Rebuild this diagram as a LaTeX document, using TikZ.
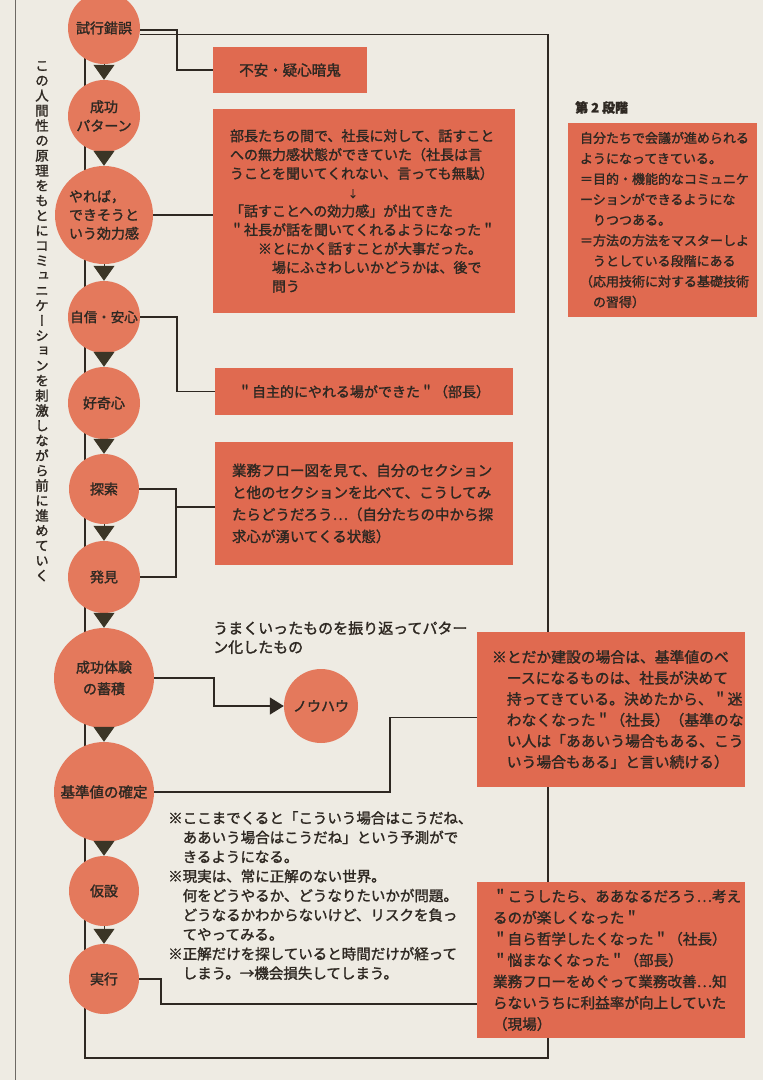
\documentclass[tikz,border=0pt]{standalone}
\usepackage{fontspec}
\setmainfont{Noto Sans CJK JP}[FakeBold=1.6]
\newfontfamily\vjp{Noto Sans CJK JP}[RawFeature=+vert,FakeBold=1.6]
\usetikzlibrary{arrows.meta,calc}
\pgfdeclarelayer{bg}
\pgfdeclarelayer{lines}
\pgfsetlayers{bg,lines,main}
\definecolor{paper}{RGB}{238,235,227}
\definecolor{boxc}{RGB}{224,106,80}
\definecolor{circc}{RGB}{228,121,92}
\definecolor{ink}{RGB}{46,40,34}
\definecolor{tric}{RGB}{59,53,38}
\begin{document}
\begin{tikzpicture}[x=1pt,y=-1pt,
  circ/.style={circle,fill=circc,inner sep=0pt,minimum size=#1,text=ink,align=center,font=\fontsize{14}{19}\selectfont},
  box/.style={rectangle,fill=boxc,inner sep=0pt,text=ink,align=left},
  conn/.style={draw=ink,line width=1.5pt},
  flow/.style={draw=tric,line width=1pt,-{Triangle[width=21pt,length=15pt]}},
  txt/.style={inner sep=0pt,text=ink,align=left,anchor=north west}]
\begin{pgfonlayer}{bg}
\fill[paper] (0,0) rectangle (763,1080);
\end{pgfonlayer}
\useasboundingbox (0,0) rectangle (763,1080);
\draw[ink!70,line width=0.8pt] (15,0) -- (15,1080);

% circles
\node[circ=72pt] (c1) at (104,28) {試行錯誤};
\node[circ=72pt] (c2) at (104,116) {成功\\パターン};
\node[circ=98pt,align=left,font=\fontsize{14}{18.5}\selectfont] (c3) at (104,215) {やれば，\\できそうと\\いう効力感};
\node[circ=72pt,font=\fontsize{13.5}{18}\selectfont] (c4) at (104,317) {自信・安心};
\node[circ=72pt] (c5) at (104,403) {好奇心};
\node[circ=70pt] (c6) at (104,489) {探索};
\node[circ=72pt] (c7) at (104,577) {発見};
\node[circ=100pt,font=\fontsize{14}{21.5}\selectfont] (c8) at (104,678) {成功体験\\の蓄積};
\node[circ=100pt,font=\fontsize{14.5}{19}\selectfont] (c9) at (104,792) {基準値の確定};
\node[circ=70pt] (c10) at (104,891) {仮設};
\node[circ=70pt] (c11) at (104,979) {実行};
\node[circ=74pt] (nh) at (321,706) {ノウハウ};

% triangles
\draw[flow] (c1.south) -- (c2.north);
\draw[flow] (c2.south) -- (c3.north);
\draw[flow] (c3.south) -- (c4.north);
\draw[flow] (c4.south) -- (c5.north);
\draw[flow] (c5.south) -- (c6.north);
\draw[flow] (c6.south) -- (c7.north);
\draw[flow] (c7.south) -- (c8.north);
\draw[flow] (c8.south) -- (c9.north);
\draw[flow] (c9.south) -- (c10.north);
\draw[flow] (c10.south) -- (c11.north);

% boxes
\node[box,minimum width=154pt,minimum height=46pt,font=\fontsize{14.5}{19}\selectfont] (B1) at (290,70) {不安・疑心暗鬼};
\node[box,minimum width=302pt,minimum height=204pt,text width=268pt,font=\fontsize{14}{18.8}\selectfont] (B2) at (364,211) {部長たちの間で、社長に対して、話すこと\\
への無力感状態ができていた（社長は言\\
うことを聞いてくれない、言っても無駄）\\
\hspace*{118pt}{\fontsize{10}{10}\selectfont ↓}\\
「話すことへの効力感」が出てきた\\
＂社長が話を聞いてくれるようになった＂\\
　　※とにかく話すことが大事だった。\\
　　　場にふさわしいかどうかは、後で\\
　　　問う};
\node[box,minimum width=298pt,minimum height=47pt,font=\fontsize{14}{19}\selectfont] (B3) at (364,391.5) {＂自主的にやれる場ができた＂（部長）};
\node[box,minimum width=298pt,minimum height=123pt,text width=264pt,font=\fontsize{14.5}{22}\selectfont] (B4) at (364,503.5) {業務フロー図を見て、自分のセクション\\
と他のセクションを比べて、こうしてみ\\
たらどうだろう⋯（自分たちの中から探\\
求心が湧いてくる状態）};
\node[txt,font=\bfseries\fontsize{13}{13}\selectfont] (S2t) at (575,101) {第 2 段階};
\node[box,minimum width=189pt,minimum height=194pt,text width=165pt,font=\fontsize{13}{20.5}\selectfont] (S2) at (662.5,220) {自分たちで会議が進められる\\
ようになってきている。\\
＝目的・機能的なコミュニケ\\
ーションができるようにな\\
　りつつある。\\
＝方法の方法をマスターしよ\\
　うとしている段階にある\\
（応用技術に対する基礎技術\\
　の習得）};
\node[box,minimum width=268pt,minimum height=155pt,text width=238pt,font=\fontsize{14.8}{21}\selectfont] (B5) at (611,709.5) {※とだか建設の場合は、基準値のベ\\
　ースになるものは、社長が決めて\\
　持ってきている。決めたから、＂迷\\
　わなくなった＂（社長）（基準のな\\
　い人は「ああいう場合もある、こう\\
　いう場合もある」と言い続ける）};
\node[box,minimum width=268pt,minimum height=156pt,text width=236pt,font=\fontsize{14.6}{21.3}\selectfont] (B6) at (611,960) {＂こうしたら、ああなるだろう⋯考え\\
るのが楽しくなった＂\\
＂自ら哲学したくなった＂（社長）\\
＂悩まなくなった＂（部長）\\
業務フローをめぐって業務改善⋯知\\
らないうちに利益率が向上していた\\
（現場）};

% free texts
\node[txt,font=\fontsize{15}{19}\selectfont] (umaku) at (213,621) {うまくいったものを振り返ってパター\\ン化したもの};
\node[txt,font=\fontsize{14.5}{19.4}\selectfont] (note) at (168,811) {※ここまでくると「こういう場合はこうだね、\\
　ああいう場合はこうだね」という予測がで\\
　きるようになる。\\
※現実は、常に正解のない世界。\\
　何をどうやるか、どうなりたいかが問題。\\
　どうなるかわからないけど、リスクを負っ\\
　てやってみる。\\
※正解だけを探していると時間だけが経って\\
　しまう。→機会損失してしまう。};
\node[inner sep=0pt,anchor=north,align=center,text=ink,font=\vjp\fontsize{13.5}{15}\selectfont] (vt) at (42,61) {こ\\の\\人\\間\\性\\の\\原\\理\\を\\も\\と\\に\\コ\\ミ\\ュ\\ニ\\ケ\\ー\\シ\\ョ\\ン\\を\\刺\\激\\し\\な\\が\\ら\\前\\に\\進\\め\\て\\い\\く};

\coordinate (LTR) at (548,34);
\coordinate (LBR) at (548,1058);
\coordinate (LBL) at (85,1058);
\coordinate (B4w) at ($(B4.north west)!0.53!(B4.south west)$);
\coordinate (B5w) at ($(B5.north west)!0.55!(B5.south west)$);
\coordinate (B6w) at ($(B6.north west)!0.78!(B6.south west)$);

\begin{pgfonlayer}{lines}
\draw[conn] (c1.-10) -- (c1.-10 -| LTR) -- (LBR) -- (LBL) -- (LBL |- c1.center);
\draw[conn] (c1.-3) -- ++(37,0) |- (B1.west);
\draw[conn] (c3.east) -- (c3.east -| B2.west);
\draw[conn] (c4.east) -- ++(37,0) |- (B3.west);
\draw[conn] (c6.east) -- ++(37,0) coordinate (j4) -- (j4 |- c7.east) -- (c7.east);
\draw[conn] (j4 |- B4w) -- (B4w);
\draw[conn,-{Triangle[width=17pt,length=14pt]}] (c8.east) -- ++(60,0) |- (nh.west);
\draw[conn] (c9.east) -- ++(236,0) |- (B5w);
\draw[conn] (c11.east) -- ++(22,0) |- (B6w);
\end{pgfonlayer}
\end{tikzpicture}
\end{document}
